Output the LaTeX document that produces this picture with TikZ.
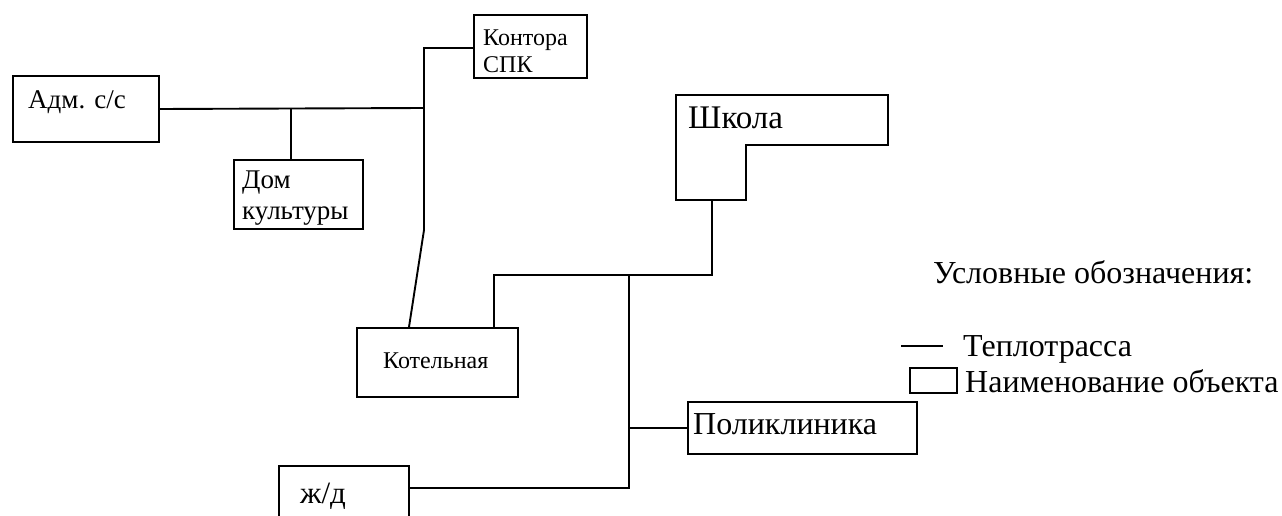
\documentclass[tikz,border=0pt]{standalone}
\usepackage{fontspec}
\setmainfont{Liberation Serif}
\begin{document}
\begin{tikzpicture}[x=1pt,y=-1pt,
  box/.style={draw, line width=2pt, inner sep=0pt, anchor=north west},
  pipe/.style={line width=1.9pt},
  lbl/.style={inner sep=0pt, anchor=base west},
  fa/.style={font=\fontsize{27}{32}\selectfont},
  fb/.style={font=\fontsize{32}{38}\selectfont},
  fc/.style={font=\fontsize{24}{28}\selectfont}]
\useasboundingbox[fill=white] (0,0) rectangle (1282,516);
% boxes
\node[box, minimum width=146pt, minimum height=66pt] (adm) at (12,75) {};
\node[box, minimum width=129pt, minimum height=69pt] (dom) at (233,159) {};
\node[box, minimum width=113pt, minimum height=63pt] (kont) at (473,14) {};
\node[box, minimum width=161pt, minimum height=69pt] (kot) at (356,327) {};
\node[box, minimum width=229pt, minimum height=52pt] (poli) at (687,401) {};
\node[box, minimum width=130pt, minimum height=60pt] (zhd) at (278,465) {};
\draw[line width=2pt] (676,95) -- (888,95) -- (888,145) -- (746,145) -- (746,200) -- (676,200) -- cycle;
\coordinate (shb) at (712,200);
% labels
\node[lbl, fa] (tadm) at (28,109) {Адм. с/с};
\node[lbl, fa] (tdom1) at (242,188) {Дом};
\node[lbl, fa] (tdom2) at (242,219) {культуры};
\node[lbl, fc] (tkont1) at (483,46) {Контора};
\node[lbl, fc] (tkont2) at (483,73) {СПК};
\node[lbl, font=\fontsize{24}{28}\selectfont] (tkot) at (383,368) {Котельная};
\node[lbl, fb] (tpoli) at (693,434) {Поликлиника};
\node[lbl, font=\fontsize{31}{36}\selectfont] (tzhd) at (300,503) {ж/д};
\node[lbl, font=\fontsize{33}{38}\selectfont] (tsch) at (688,129) {Школа};
% pipes
\coordinate (j1) at (424,108);
\coordinate (jd) at (291,108);
\coordinate (ka) at (424,48);
\coordinate (kb) at (424,230);
\coordinate (kc) at (409,327);
\draw[pipe] (adm.east) -- (j1);
\draw[pipe] (jd) -- (jd |- dom.north);
\draw[pipe] (kont.west |- ka) -- (ka) -- (kb) -- (kc);
\coordinate (s1) at (712,275);
\coordinate (s2) at (494,275);
\coordinate (s3) at (629,275);
\coordinate (s4) at (629,488);
\draw[pipe] (shb) -- (s1) -- (s2) -- (s2 |- kot.north);
\draw[pipe] (s3) -- (s4) -- (s4 -| zhd.east);
\draw[pipe] (poli.west -| s3) -- (poli.west);
% legend
\node[lbl, fb] (leg) at (933,283) {Условные обозначения:};
\coordinate (l1) at (901,346);
\coordinate (l2) at (943,346);
\draw[pipe] (l1) -- (l2);
\node[lbl, fb] (leg1) at (963,356) {Теплотрасса};
\node[box, minimum width=47pt, minimum height=25pt] (legbox) at (909,367) {};
\node[lbl, fb] (leg2) at (965,392) {Наименование объекта};
\end{tikzpicture}
\end{document}
